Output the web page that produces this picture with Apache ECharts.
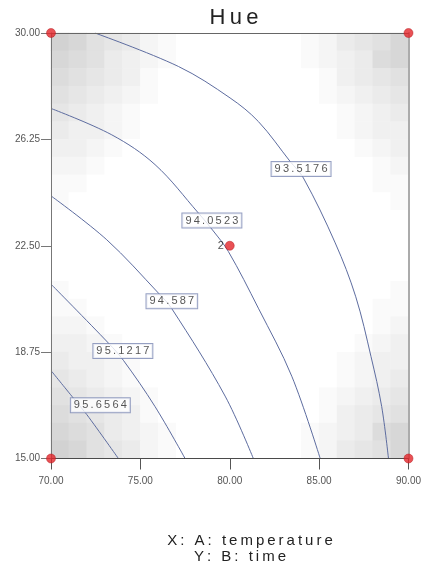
<!DOCTYPE html>
<html>
<head>
<meta charset="utf-8">
<script src="https://cdn.jsdelivr.net/npm/echarts@6/dist/echarts.min.js"></script>
<style>
  html, body { margin: 0; padding: 0; background: #ffffff; }
  #chart { width: 429px; height: 570px; }
</style>
</head>
<body>
<div id="chart"></div>
<script>
// Axis ticks: A = temperature, B = time
const xTicks = [70, 75, 80, 85, 90];
const yTicks = [15, 18.75, 22.5, 26.25, 30];

// Contour levels of Hue and the traced iso-lines [temperature, time]
const levels = [93.5176, 94.0523, 94.587, 95.1217, 95.6564];
const hue93_5176 = [[72.46, 30], [77.13, 28.82], [80.02, 27.71], [81.6, 26.88], [83.38, 25.47],
  [84.12, 24.89], [85.9, 22.6], [87.05, 20.7], [87.9, 18.6], [88.5, 16.83], [88.88, 15]];
const hue94_0523 = [[70.04, 27.33], [73.4, 26.41], [75.82, 25.36], [78.25, 23.65], [79.08, 23.02],
  [79.92, 22.3], [81.6, 20.3], [83.47, 17.9], [85.06, 15]];
const hue94_587 = [[70.04, 24.24], [73.12, 22.71], [76.01, 20.83], [76.76, 20.28], [79.74, 17.2],
  [81.32, 15]];
const hue95_1217 = [[70.04, 21.12], [73.21, 19.07], [74.05, 18.46], [75.82, 16.83], [77.5, 15]];
const hue95_6564 = [[70.04, 18.07], [71.25, 17.13], [72.0, 16.55], [73.77, 15]];
const contourLines = [hue93_5176, hue94_0523, hue94_587, hue95_1217, hue95_6564];

// Where each level's value tag sits on its line
const labelPos = [[83.99, 25.21], [79.0, 23.39], [76.76, 20.54], [74.02, 18.79], [72.76, 16.88]];

// Design points (factorial corners + center point with 2 runs)
const designPoints = [[70, 15], [90, 15], [70, 30], [90, 30], [80, 22.5]];
const centerRuns = 2;

// Background shading of the design space, one string per row from top (time = 30) down, 20 cells per row
const shadeRows = [
  '98654210000000124568',
  '87643210000000123478',
  '76543100000000013456',
  '65432100000000012345',
  '54321000000000001234',
  '43321000000000001233',
  '33210000000000000123',
  '22100000000000000012',
  '11000000000000000011',
  '10000000000000000001',
  '00000000000000000000',
  '00000000000000000000',
  '00000000000000000000',
  '00000000000000000000',
  '10000000000000000001',
  '11000000000000000011',
  '22100000000000000012',
  '33210000000000000123',
  '43321000000000001233',
  '54321000000000001234',
  '65432100000000012345',
  '76543100000000013456',
  '87643210000000123478',
  '98654210000000124568'
];

const spread = s => s.split('').join('\u2009');

const nCols = shadeRows[0].length;
const nRows = shadeRows.length;
const shadeData = [];
shadeRows.forEach((row, r) => {
  row.split('').forEach((ch, c) => {
    shadeData.push([c, nRows - 1 - r, Number(ch)]);
  });
});

const lineColor = '#5d6c9f';
const fontFamily = 'Liberation Sans, Arial, sans-serif';

const series = [];

series.push({
  type: 'heatmap',
  xAxisIndex: 1,
  yAxisIndex: 1,
  data: shadeData,
  itemStyle: { borderWidth: 0 },
  emphasis: { disabled: true },
  silent: true,
  z: 1
});

contourLines.forEach((pts, i) => {
  series.push({
    type: 'line',
    name: String(levels[i]),
    xAxisIndex: 0,
    yAxisIndex: 0,
    data: pts,
    smooth: 0.35,
    symbol: 'none',
    lineStyle: { color: lineColor, width: 1 },
    silent: true,
    z: 3
  });
});

series.push({
  type: 'scatter',
  xAxisIndex: 0,
  yAxisIndex: 0,
  data: labelPos.map((p, i) => [p[0], p[1], levels[i]]),
  symbolSize: 0,
  silent: true,
  z: 5,
  label: {
    show: true,
    position: 'inside',
    formatter: p => spread(String(p.value[2])),
    fontFamily: fontFamily,
    fontSize: 11,
    color: '#2a2a2a',
    backgroundColor: '#ffffff',
    borderColor: '#7c88b4',
    borderWidth: 1,
    padding: [2, 3, 1, 3]
  }
});

series.push({
  type: 'scatter',
  xAxisIndex: 0,
  yAxisIndex: 0,
  data: designPoints,
  symbolSize: 9,
  itemStyle: { color: '#e3262a', borderColor: '#b41a1e', borderWidth: 0.6 },
  silent: true,
  z: 20,
  label: {
    show: true,
    position: 'left',
    distance: 1,
    formatter: p => (p.value[0] === 80 && p.value[1] === 22.5) ? String(centerRuns) : '',
    fontFamily: fontFamily,
    fontSize: 11,
    color: '#222'
  }
});

const chart = echarts.init(document.getElementById('chart'), null, { renderer: 'canvas' });
chart.setOption({
  animation: false,
  backgroundColor: '#ffffff',
  grid: { left: 51, top: 33, width: 357.5, height: 425.5, containLabel: false },
  visualMap: {
    show: false,
    seriesIndex: 0,
    min: 0,
    max: 9,
    inRange: { color: ['#ffffff', '#d2d2d2'] }
  },
  xAxis: [{
    type: 'value',
    min: xTicks[0],
    max: xTicks[xTicks.length - 1],
    interval: xTicks[1] - xTicks[0],
    splitLine: { show: false },
    axisLine: { show: true, lineStyle: { color: '#4a4a4a', width: 1 } },
    axisTick: { show: true, length: 11, lineStyle: { color: '#555' } },
    axisLabel: {
      formatter: v => v.toFixed(2),
      fontFamily: fontFamily, fontSize: 10, color: '#555', margin: 18
    },
    z: 10
  }, {
    type: 'category',
    position: 'top',
    data: Array.from({ length: nCols }, (_, i) => i),
    axisLine: { show: true, lineStyle: { color: '#666', width: 1 } },
    axisTick: { show: false },
    axisLabel: { show: false },
    splitLine: { show: false },
    z: 10
  }],
  yAxis: [{
    type: 'value',
    min: yTicks[0],
    max: yTicks[yTicks.length - 1],
    interval: yTicks[1] - yTicks[0],
    splitLine: { show: false },
    axisLine: { show: true, lineStyle: { color: '#777', width: 1 } },
    axisTick: { show: true, length: 10, lineStyle: { color: '#777' } },
    axisLabel: {
      formatter: v => v.toFixed(2),
      fontFamily: fontFamily, fontSize: 10, color: '#555', margin: 11
    },
    z: 10
  }, {
    type: 'category',
    position: 'right',
    data: Array.from({ length: nRows }, (_, i) => i),
    axisLine: { show: true, lineStyle: { color: '#ababab', width: 2 } },
    axisTick: { show: false },
    axisLabel: { show: false },
    splitLine: { show: false },
    z: 10
  }],
  graphic: [{
    type: 'text',
    x: 234,
    y: 18,
    style: {
      text: spread('Hue'),
      fontFamily: fontFamily,
      fontSize: 22,
      fill: '#222',
      textAlign: 'center',
      textVerticalAlign: 'middle'
    }
  }, {
    type: 'text',
    x: 250,
    y: 541,
    style: {
      text: spread('X: A: temperature'),
      fontFamily: fontFamily,
      fontSize: 15,
      fill: '#222',
      textAlign: 'center',
      textVerticalAlign: 'middle'
    }
  }, {
    type: 'text',
    x: 240,
    y: 557,
    style: {
      text: spread('Y: B: time'),
      fontFamily: fontFamily,
      fontSize: 15,
      fill: '#222',
      textAlign: 'center',
      textVerticalAlign: 'middle'
    }
  }],
  series: series
});
</script>
</body>
</html>
